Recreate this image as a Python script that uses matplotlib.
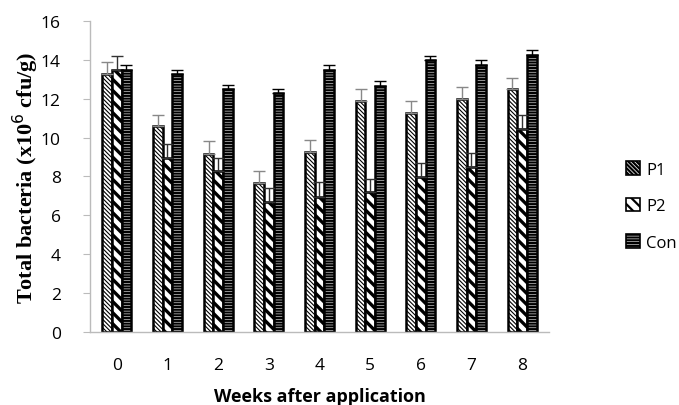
import matplotlib
matplotlib.use("Agg")
import matplotlib.pyplot as plt
import numpy as np
from matplotlib.patches import Patch

weeks = ["0", "1", "2", "3", "4", "5", "6", "7", "8"]
series_names = ["P1", "P2", "Con"]
p1 = [13.27, 10.58, 9.17, 7.66, 9.26, 11.87, 11.25, 11.97, 12.50]
p1_err = [0.60, 0.58, 0.64, 0.62, 0.63, 0.61, 0.62, 0.62, 0.55]
p2 = [13.48, 8.97, 8.27, 6.67, 6.94, 7.19, 7.96, 8.47, 10.44]
p2_err = [0.70, 0.68, 0.70, 0.72, 0.76, 0.66, 0.73, 0.72, 0.72]
con = [13.48, 13.27, 12.48, 12.28, 13.48, 12.67, 13.99, 13.75, 14.26]
con_err = [0.24, 0.19, 0.24, 0.20, 0.24, 0.24, 0.19, 0.24, 0.26]
y_ticks = [0, 2, 4, 6, 8, 10, 12, 14, 16]

fig = plt.figure(figsize=(6.79, 4.06), dpi=100)
ax = fig.add_axes([0.1325, 0.18, 0.676, 0.766])

x = np.arange(len(weeks))
w = 0.19
series = [(p1, p1_err, '\\\\\\\\\\\\\\\\', '#888888', 0.8),
          (p2, p2_err, '\\\\\\', '#333333', 2.4),
          (con, con_err, '------', 'black', 1.6)]
handles = []
for i, (vals, errs, hatch, ecol, hlw) in enumerate(series):
    plt.rcParams['hatch.linewidth'] = hlw
    xs = x + (i - 1) * w
    ax.bar(xs, vals, width=w, color='white', edgecolor='black', hatch=hatch,
           linewidth=1.8, zorder=2)
    ax.errorbar(xs, vals, yerr=[np.zeros(len(vals)), errs], fmt='none',
                ecolor=ecol, elinewidth=1.0, capsize=4, capthick=1.0, zorder=3)
    handles.append(Patch(facecolor='white', edgecolor='black', hatch=hatch, linewidth=1.2))

ax.set_xlim(-0.53, 8.53)
ax.set_ylim(0, 16)
ax.set_yticks(y_ticks)
ax.set_xticks(x)
ax.set_xticklabels(weeks)
for s in ['top', 'right']:
    ax.spines[s].set_visible(False)
for s in ['left', 'bottom']:
    ax.spines[s].set_color('#bbbbbb')
    ax.spines[s].set_linewidth(1.0)
ax.tick_params(axis='y', direction='out', length=5, color='#bbbbbb', labelsize=12.5, pad=16)
ax.tick_params(axis='x', length=0, labelsize=12.5, pad=18)
for lab in ax.get_xticklabels() + ax.get_yticklabels():
    lab.set_fontfamily('Open Sans')

ax.set_ylabel('Total bacteria (x10$^{6}$ cfu/g)', fontfamily='Liberation Serif',
              fontweight='bold', fontsize=16, labelpad=0)
ax.set_xlabel('Weeks after application', fontfamily='Open Sans', fontweight='bold',
              fontsize=13, labelpad=10)

leg = fig.legend(handles, series_names, loc='upper left', bbox_to_anchor=(0.922, 0.6),
                 frameon=False, prop={'family': 'Open Sans', 'size': 12},
                 handlelength=0.85, handleheight=0.85, handletextpad=0.35, labelspacing=1.2,
                 borderaxespad=0, borderpad=0)

fig.savefig('out.png', dpi=100)
